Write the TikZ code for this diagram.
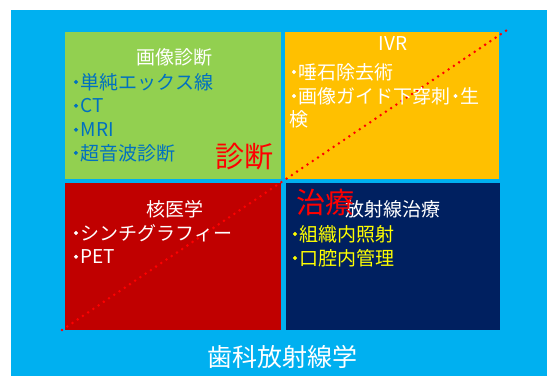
\documentclass[tikz,border=0pt]{standalone}
\usepackage{fontspec}
\setmainfont{Noto Sans CJK JP}
\definecolor{bgcyan}{HTML}{00B0F0}
\definecolor{qgreen}{HTML}{92D050}
\definecolor{qorange}{HTML}{FFC000}
\definecolor{qred}{HTML}{C00000}
\definecolor{qnavy}{HTML}{002060}
\definecolor{tblue}{HTML}{0070C0}
\definecolor{tyellow}{HTML}{FFFF00}
\definecolor{tred}{HTML}{FF0000}
\newcommand\mybul{{\addfontfeatures{FakeBold=4}･}}
\tikzset{
  quad/.style={draw=none, inner sep=0pt, anchor=north west},
  title/.style={inner sep=0pt, text=white, font=\fontsize{19}{22}\selectfont},
  item/.style={inner sep=0pt, anchor=west, font=\fontsize{19}{22}\selectfont},
  big/.style={inner sep=0pt, text=tred, font=\fontsize{29}{32}\selectfont},
  dotline/.style={draw=tred, line width=2.8pt, line cap=round, dash pattern=on 0pt off 6.3pt}
}
\begin{document}
\begin{tikzpicture}[x=1pt,y=-1pt]
\useasboundingbox (0,0) rectangle (547,376);
\fill[white] (0,0) rectangle (547,376);
\fill[bgcyan] (11,10) rectangle (547,376);
% quadrants
\node[quad, fill=qgreen, minimum width=216pt, minimum height=147pt] (qa) at (65,32) {};
\node[quad, fill=qorange, minimum width=214pt, minimum height=147pt] (qb) at (285,32) {};
\node[quad, fill=qred, minimum width=216pt, minimum height=147pt] (qc) at (65,183) {};
\node[quad, fill=qnavy, minimum width=214pt, minimum height=147pt] (qd) at (286,183) {};
% diagonal dotted line
\coordinate (ls) at (62,330);
\coordinate (le) at (507,30);
\draw[dotline] (ls) -- (le);
% green: 画像診断
\node[title] (ta) at (174,57) {画像診断};
\node[item, text=tblue] (a1) at (71,82) {\mybul 単純エックス線};
\node[item, text=tblue] (a2) at (71,106) {\mybul CT};
\node[item, text=tblue] (a3) at (71,130) {\mybul MRI};
\node[item, text=tblue] (a4) at (71,153) {\mybul 超音波診断};
\node[big] (ba) at (244,157) {診断};
% orange: IVR
\node[title] (tb) at (393,44) {IVR};
\node[item, text=white] (b1) at (289,72) {\mybul 唾石除去術};
\node[item, text=white] (b2) at (289,96) {\mybul 画像ガイド下穿刺\mybul 生};
\node[item, text=white] (b3) at (289,119) {検};
% red: 核医学
\node[title] (tc) at (175,209) {核医学};
\node[item, text=white] (c1) at (71,233) {\mybul シンチグラフィー};
\node[item, text=white] (c2) at (71,257) {\mybul PET};
% navy: 放射線治療
\node[title] (td) at (393,209) {放射線治療};
\node[item, text=tyellow] (d1) at (290,234) {\mybul 組織内照射};
\node[item, text=tyellow] (d2) at (290,258) {\mybul 口腔内管理};
\node[big] (bd) at (325,202) {治療};
% footer
\node[inner sep=0pt, text=white, font=\fontsize{25}{28}\selectfont] (ft) at (282,357) {歯科放射線学};
\end{tikzpicture}
\end{document}
